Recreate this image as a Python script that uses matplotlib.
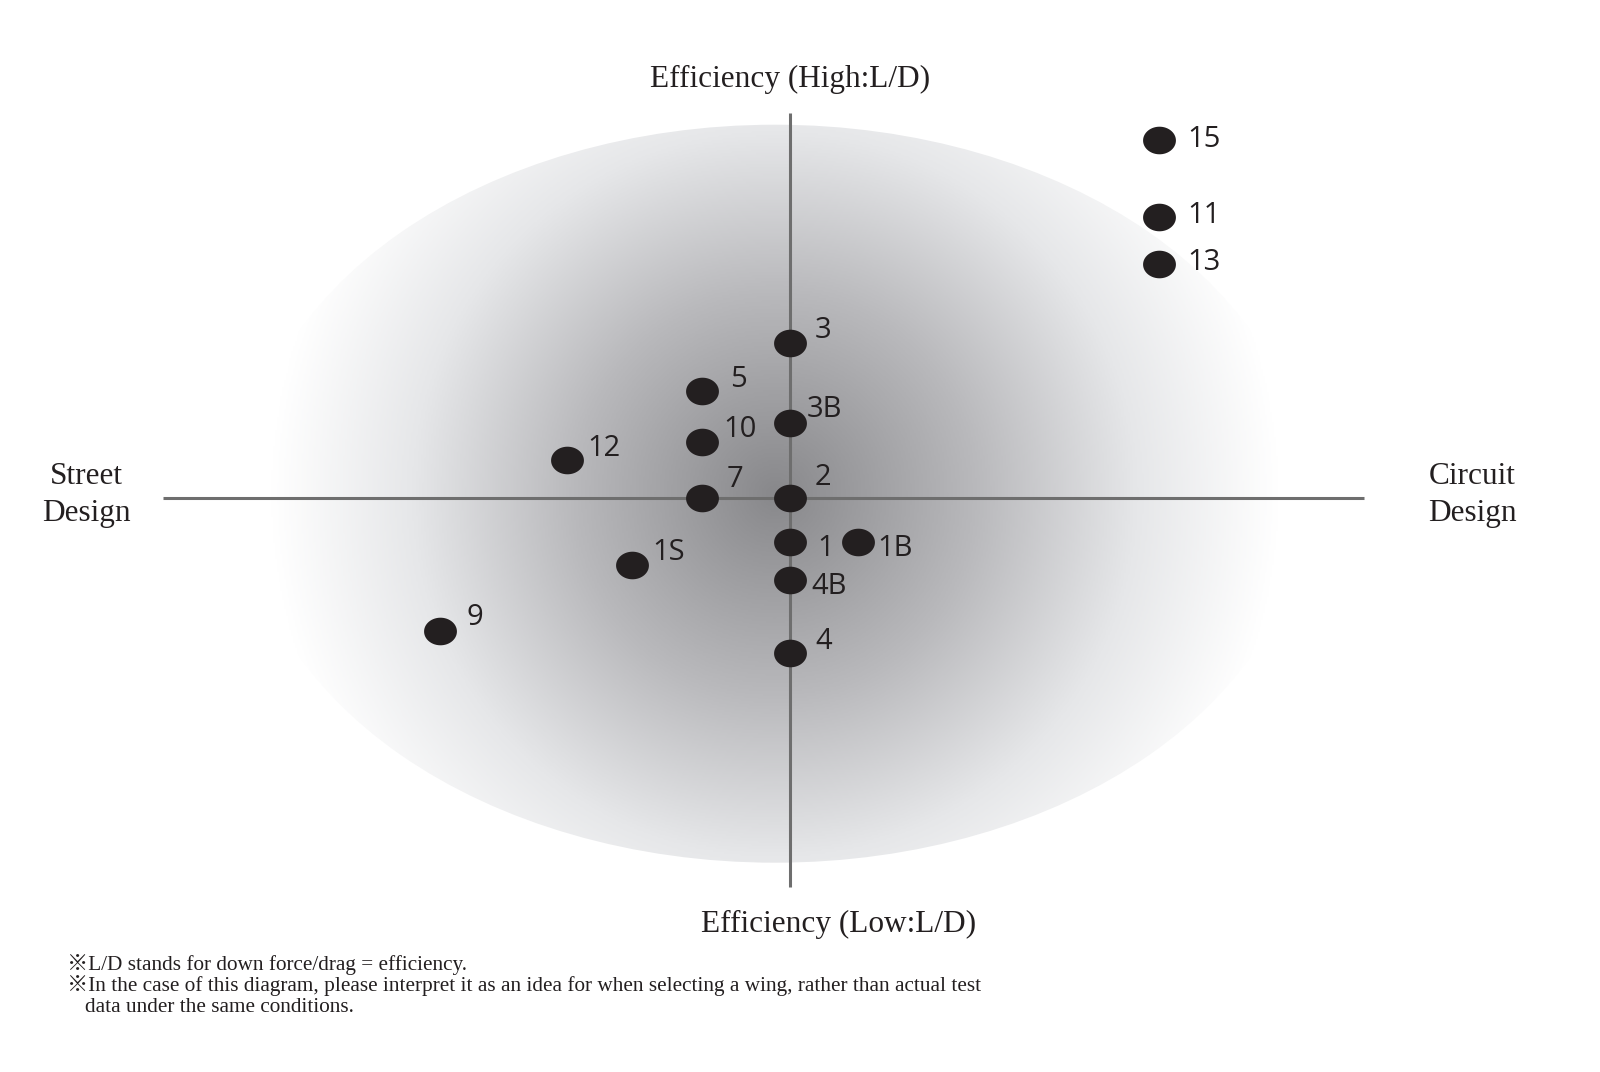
import numpy as np
import matplotlib.pyplot as plt
from matplotlib.patches import Ellipse
from matplotlib.path import Path
from matplotlib.colors import LinearSegmentedColormap

# wing map: x = street(-) / circuit(+), y = efficiency low(-) / high(+)
wings = ["3", "5", "3B", "10", "12", "7", "2", "1", "1B", "1S", "4B", "4", "9", "15", "11", "13"]
street_circuit = [0.0, -0.88, 0.0, -0.88, -2.23, -0.88, 0.0, 0.0, 0.68, -1.58, 0.0, 0.0, -3.50, 3.69, 3.69, 3.69]
efficiency = [1.55, 1.07, 0.75, 0.56, 0.38, 0.0, 0.0, -0.44, -0.44, -0.67, -0.82, -1.55, -1.33, 3.58, 2.81, 2.34]

axis_top = "Efficiency (High:L/D)"
axis_bottom = "Efficiency (Low:L/D)"
axis_left = ["Street", "Design"]
axis_right = ["Circuit", "Design"]
notes = ["※L/D stands for down force/drag = efficiency.",
         "※In the case of this diagram, please interpret it as an idea for when selecting a wing, rather than actual test",
         "data under the same conditions."]

# label offsets in pixels (right, down) from the dot centre to the text centre
label_off = {"3": (25, -16), "5": (28, -15), "3B": (17, -17), "10": (21, -16), "12": (20, -15),
             "7": (25, -22), "2": (25, -24), "1": (27, 3), "1B": (19, 3), "1S": (20, -16),
             "4B": (21, 3), "4": (25, -15), "9": (26, -17), "15": (28, -4), "11": (28, -5), "13": (28, -5)}

fig = plt.figure(figsize=(16, 10.72), dpi=100)
ax = fig.add_axes([0, 0, 1, 1])
ax.set_xlim(-7.90, 8.10)
ax.set_ylim(-5.743, 4.977)
ax.axis("off")

# shaded background: radial gradient clipped to an ellipse
cmap = LinearSegmentedColormap.from_list("bg", [(0, "#88888b"), (0.4, "#b9b9bc"),
                                               (0.72, "#e6e7e9"), (1, "#ffffff")])
gx, gy = np.meshgrid(np.linspace(-5.5, 5.3, 600), np.linspace(-4.0, 4.0, 450))
r = np.clip(np.hypot(gx + 0.15, gy - 0.04) / 5.05, 0, 1)
im = ax.imshow(r, extent=(-5.5, 5.3, -4.0, 4.0), origin="lower", cmap=cmap,
               vmin=0, vmax=1, interpolation="bilinear", zorder=0)
clip = Ellipse((-0.15, 0.04), 10.6, 7.38, transform=ax.transData, facecolor="none", edgecolor="none")
ax.add_patch(clip)
im.set_clip_path(clip)

# axes cross
ax.plot([-6.27, 5.74], [0, 0], color="#6e6e6e", lw=2.2, zorder=1, solid_capstyle="butt")
ax.plot([0, 0], [-3.89, 3.85], color="#6e6e6e", lw=2.2, zorder=1, solid_capstyle="butt")

# oval dots
t = np.linspace(0, 2 * np.pi, 60)
oval = Path(np.column_stack([np.cos(t), 0.84 * np.sin(t)]))
ax.scatter(street_circuit, efficiency, marker=oval, s=560, color="#231f20", linewidths=0, zorder=3)

for name, x, y in zip(wings, street_circuit, efficiency):
    dx, dy = label_off[name]
    ax.annotate(name, (x, y), xytext=(dx * 0.72, -(dy + 11) * 0.72), textcoords="offset points",
                ha="left", va="baseline", fontsize=21, family="Open Sans", color="#231f20", zorder=4)

serif = ["Liberation Serif", "Noto Sans CJK JP"]
ax.text(0, 4.107, axis_top, ha="center", va="baseline", fontsize=22.5, family=serif, color="#231f20")
ax.text(0.49, -4.34, axis_bottom, ha="center", va="baseline", fontsize=22.5, family=serif, color="#231f20")
ax.text(-7.04, 0.137, axis_left[0], ha="center", va="baseline", fontsize=22.5, family=serif, color="#231f20")
ax.text(-7.04, -0.233, axis_left[1], ha="center", va="baseline", fontsize=22.5, family=serif, color="#231f20")
ax.text(6.82, 0.137, axis_right[0], ha="center", va="baseline", fontsize=22.5, family=serif, color="#231f20")
ax.text(6.82, -0.233, axis_right[1], ha="center", va="baseline", fontsize=22.5, family=serif, color="#231f20")

ax.text(-7.23, -4.723, notes[0], ha="left", va="baseline", fontsize=15.3, family=serif, color="#231f20")
ax.text(-7.23, -4.933, notes[1], ha="left", va="baseline", fontsize=15.3, family=serif, color="#231f20")
ax.text(-7.05, -5.143, notes[2], ha="left", va="baseline", fontsize=15.3, family=serif, color="#231f20")

fig.savefig("out.png", dpi=100)
